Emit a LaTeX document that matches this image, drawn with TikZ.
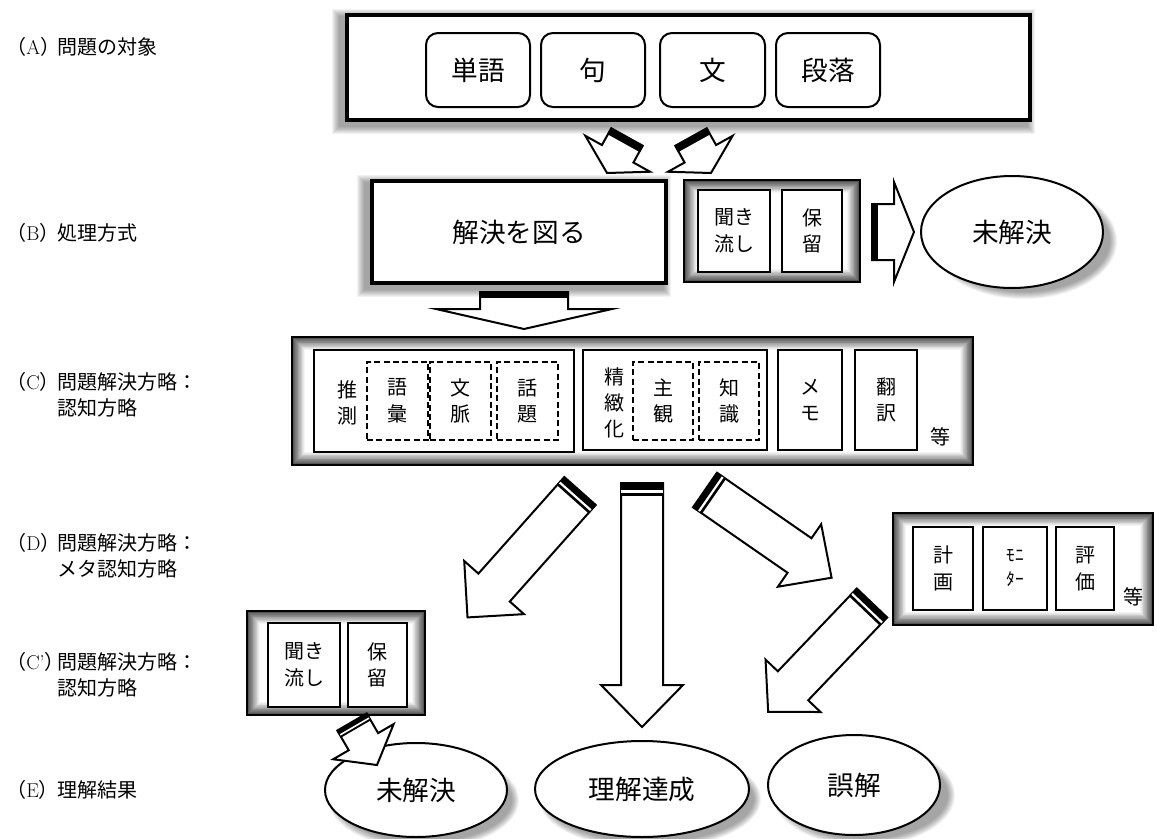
\documentclass[tikz,border=0pt]{standalone}
\usepackage{fontspec}
\newfontfamily\jp{Noto Sans CJK JP}
\usetikzlibrary{fit,calc,shapes.geometric}
\pgfdeclarelayer{bg}
\pgfsetlayers{bg,main}
\newcommand\tg[1]{（{\rmfamily #1}）}
% block arrow from named tail coordinate to named tip coordinate
% #3 shaft half width, #4 head half width, #5 head length, #6 band thickness, #7 stripe (0/1)  -- all in px
\newcommand\fatarrow[7]{%
  \pgfmathanglebetweenpoints{\pgfpointanchor{#1}{center}}{\pgfpointanchor{#2}{center}}%
  \edef\faang{\pgfmathresult}%
  \pgfpointdiff{\pgfpointanchor{#1}{center}}{\pgfpointanchor{#2}{center}}%
  \pgfgetlastxy{\fadx}{\fady}%
  \pgfmathsetmacro\falen{veclen(\fadx,\fady)/0.75}%
  \begin{scope}[shift={(#1)},rotate=\faang]
    \draw[barrow] (0,#3) -- ({\falen-#5},#3) -- ({\falen-#5},#4) -- (\falen,0)
      -- ({\falen-#5},-#4) -- ({\falen-#5},-#3) -- (0,-#3) -- cycle;
    \fill[black] (0,{#3+0.6}) rectangle (#6,{-#3-0.6});
    \ifnum#7=1 \fill[white] ({#6*0.55},{#3-0.3}) rectangle ({#6*0.75},{-#3+0.3});\fi
  \end{scope}}
\newcommand\boxshadow[3]{%
  \foreach \i in {1,...,8}{\fill[black,opacity=0.05] ($(#1.north west)+(#2-\i,#3-\i)$) rectangle ($(#1.south east)+(#2+\i,#3+\i)$);}}
\newcommand\ellshadow[5]{%
  \foreach \i in {1,...,8}{\fill[black,opacity=0.05] ($(#1.center)+(#2,#3)$) ellipse [x radius={#4-5+\i}, y radius={#5-5+\i}];}}
\begin{document}
\begin{tikzpicture}[x=0.75pt,y=-0.75pt,
  every node/.style={font=\jp},
  big/.style={font=\jp\fontsize{20}{24}\selectfont},
  small/.style={font=\jp\fontsize{15}{20}\selectfont, align=center},
  bigtxt/.style={label={[font=\jp\fontsize{20}{24}\selectfont]center:#1}},
  smalltxt/.style={label={[font=\jp\fontsize{15}{20}\selectfont, align=center]center:#1}},
  lab/.style={font=\jp\fontsize{15}{19}\selectfont, align=left, inner sep=0pt},
  frameA/.style={draw, line width=3pt, fill=white, inner sep=0pt},
  mainbox/.style={draw, line width=3.5pt, fill=white, inner sep=0pt},
  rbox/.style={draw, line width=1.5pt, rounded corners=9pt, fill=white, inner sep=0pt},
  sbox/.style={draw, line width=1.6pt, fill=white, inner sep=0pt},
  tbox/.style={draw, line width=2pt, fill=white, inner sep=0pt},
  dbox/.style={draw, line width=1.6pt, dash pattern=on 4.5pt off 2.5pt, inner sep=0pt},
  ell/.style={draw, ellipse, line width=1.5pt, fill=white, inner sep=0pt},
  barrow/.style={draw, fill=white, line width=1.5pt, line join=miter},
  glowbox/.style={draw, line width=2.2pt, fill=white, inner sep=0pt,
    path picture={%
      \foreach \i in {0,...,16}{%
        \pgfmathtruncatemacro\gc{max(0,72-4.5*\i)}%
        \fill[black!\gc] ([xshift=\i*0.6pt,yshift=-\i*0.6pt]path picture bounding box.north west)
          rectangle ([xshift=-\i*0.6pt,yshift=\i*0.6pt]path picture bounding box.south east);}}},
]
\begin{pgfonlayer}{bg}
  \fill[white] (0,0) rectangle (1157,839);
\end{pgfonlayer}
\useasboundingbox (0,0) rectangle (1157,839);

% ---- left labels
\node[lab, anchor=west] (tA) at (6,47) {\tg{A}};
\node[lab, anchor=west] (lA) at (57,47) {問題の対象};
\node[lab, anchor=west] (tB) at (6,233) {\tg{B}};
\node[lab, anchor=west] (lB) at (57,233) {処理方式};
\node[lab, anchor=west] (tC) at (6,382) {\tg{C}};
\node[lab, anchor=west] (lC) at (57,395) {問題解決方略：\\認知方略};
\node[lab, anchor=west] (tD) at (6,543) {\tg{D}};
\node[lab, anchor=west] (lD) at (57,556) {問題解決方略：\\メタ認知方略};
\node[lab, anchor=west] (tCp) at (6,662) {\tg{C’}};
\node[lab, anchor=west] (lCp) at (57,675) {問題解決方略：\\認知方略};
\node[lab, anchor=west] (tE) at (6,790) {\tg{E}};
\node[lab, anchor=west] (lE) at (57,790) {理解結果};

% ---- (A)
\node[frameA, fit={(347,15) (1030,120)}] (A) {};
\node[rbox, bigtxt=単語, fit={(426,33) (530,107)}] (a1) {};
\node[rbox, bigtxt=句, fit={(541,33) (645,107)}] (a2) {};
\node[rbox, bigtxt=文, fit={(660,33) (765,107)}] (a3) {};
\node[rbox, bigtxt=段落, fit={(776,33) (880,107)}] (a4) {};

% ---- (B)
\node[mainbox, bigtxt=解決を図る, fit={(372,181) (666,283)}] (B) {};
\node[glowbox, fit={(684,180) (860,282)}] (H) {};
\node[sbox, smalltxt={聞き\\流し}, fit={(698,190) (770,272)}] (h1) {};
\node[sbox, smalltxt={保\\留}, fit={(782,190) (842,272)}] (h2) {};
\node[ell, big, minimum width=136.5pt, minimum height=84pt] (U1) at (1012,232) {未解決};

% ---- (C)
\node[glowbox, fit={(292,337) (973,465)}] (C) {};
\node[sbox, fit={(314,350) (574,452)}] (c1) {};
\node[small] (c1t) at (347,403) {推\\測};
\node[dbox, smalltxt={語\\彙}, fit={(367,362) (428,440)}] (c11) {};
\node[dbox, smalltxt={文\\脈}, fit={(430,362) (491,440)}] (c12) {};
\node[dbox, smalltxt={話\\題}, fit={(497,362) (558,440)}] (c13) {};
\node[sbox, fit={(583,350) (767,450)}] (c2) {};
\node[small, font=\jp\fontsize{15}{19.5}\selectfont] (c2t) at (614,403) {精\\緻\\化};
\node[dbox, smalltxt={主\\観}, fit={(633,362) (693,440)}] (c21) {};
\node[dbox, smalltxt={知\\識}, fit={(699,362) (759,440)}] (c22) {};
\node[tbox, smalltxt={メ\\モ}, fit={(778,350) (842,450)}] (c3) {};
\node[tbox, smalltxt={翻\\訳}, fit={(855,350) (917,450)}] (c4) {};
\node[small] (c5) at (940,437) {等};

% ---- (D)
\node[glowbox, fit={(893,513) (1153,625)}] (D) {};
\node[tbox, smalltxt={計\\画}, fit={(913,527) (973,610)}] (d1) {};
\node[tbox, label={[font=\jp\fontsize{13}{18}\selectfont, align=center]center:{ﾓﾆ\\ﾀｰ}}, fit={(983,527) (1047,610)}] (d2) {};
\node[tbox, smalltxt={評\\価}, fit={(1056,527) (1114,610)}] (d3) {};
\node[small] (d4) at (1133,597) {等};

% ---- (C')
\node[glowbox, fit={(247,611) (425,715)}] (Cp) {};
\node[tbox, smalltxt={聞き\\流し}, fit={(268,623) (340,707)}] (p1) {};
\node[tbox, smalltxt={保\\留}, fit={(348,623) (407,707)}] (p2) {};

% ---- (E)
\node[ell, big, minimum width=136.5pt, minimum height=70.5pt] (E1) at (416,790) {未解決};
\node[ell, big, minimum width=160.5pt, minimum height=72pt] (E2) at (642,789) {理解達成};
\node[ell, big, minimum width=129pt, minimum height=75pt] (E3) at (854,785) {誤解};

% ---- shadows
\begin{pgfonlayer}{bg}
  \boxshadow{A}{-5}{4}
  \boxshadow{B}{-5}{4}
  \ellshadow{U1}{12}{9}{90}{55}
  \ellshadow{E1}{8}{10}{92}{46}
  \ellshadow{E2}{8}{10}{108}{47}
  \ellshadow{E3}{10}{10}{88}{48}
\end{pgfonlayer}

% ---- block arrows (connectors)
\coordinate (s1) at (627,137); \coordinate (t1) at (607,173);
\coordinate (s2) at (691,137); \coordinate (t2) at (711,173);
\coordinate (s3) at (524,292); \coordinate (t3) at (524,329);
\coordinate (s4) at (872,232); \coordinate (t4) at (914,232);
\coordinate (s5) at (580,491); \coordinate (t5) at (467,618);
\coordinate (s6) at (642,483); \coordinate (t6) at (642,727);
\coordinate (s7) at (705,490); \coordinate (t7) at (832,578);
\coordinate (s8) at (872,603); \coordinate (t8) at (768,712);
\coordinate (s9) at (352,722); \coordinate (t9) at (377,765);
\fatarrow{s1}{t1}{18}{37}{22}{7}{0}
\fatarrow{s2}{t2}{18}{37}{22}{7}{0}
\fatarrow{s3}{t3}{44}{88}{20}{6}{0}
\fatarrow{s4}{t4}{28}{50}{20}{6}{0}
\fatarrow{s5}{t5}{21}{40}{40}{11}{1}
\fatarrow{s6}{t6}{21}{41}{42}{13}{1}
\fatarrow{s7}{t7}{21}{38}{39}{11}{1}
\fatarrow{s8}{t8}{21}{38}{36}{11}{1}
\fatarrow{s9}{t9}{17}{35}{27}{8}{1}
\end{tikzpicture}
\end{document}
